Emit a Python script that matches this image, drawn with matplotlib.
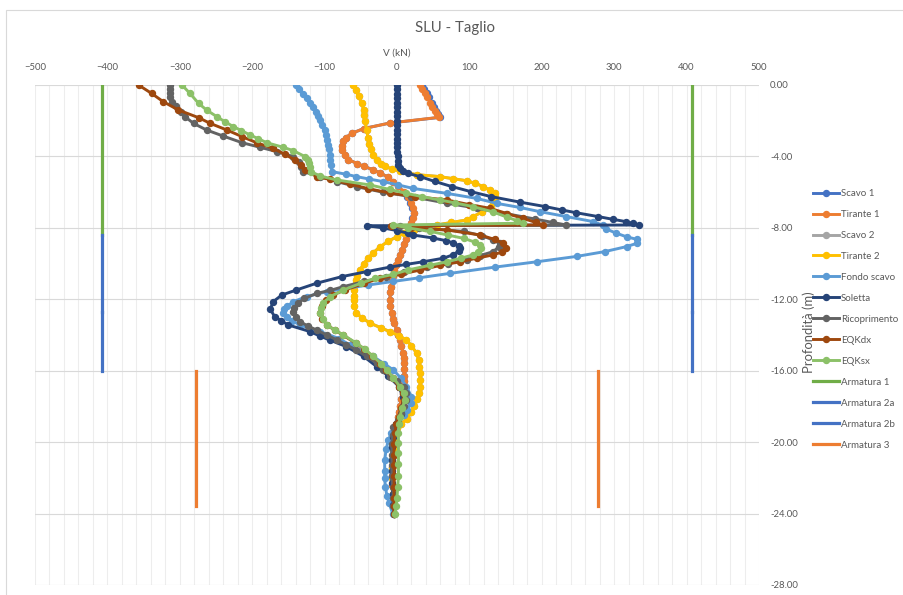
import numpy as np
import matplotlib
matplotlib.use("Agg")
import matplotlib.pyplot as plt
from matplotlib.patches import Rectangle
from matplotlib.ticker import MultipleLocator, FixedLocator, FuncFormatter

plt.rcParams["font.family"] = ["Lato", "DejaVu Sans"]

# ---- shear V (kN) vs depth z (m) for each construction stage ----
tirante1_z = [0, -0.2, -0.45, -0.7, -1.0, -1.25, -1.47, -1.65, -1.81, -2.13, -2.44, -2.7, -2.95, -3.15, -3.4, -3.62,
              -3.9, -4.18, -4.4, -4.55, -4.75, -4.93, -5.15, -5.41, -5.65, -5.97, -6.3, -6.62, -6.9, -7.18, -7.45,
              -7.74, -8.0, -8.3, -8.6, -8.9, -9.24, -9.5, -9.8, -10.1, -10.36, -10.7, -10.92, -11.3, -11.6, -12.04,
              -12.4, -12.78, -13.1, -13.34, -13.7, -14.0, -14.28, -14.6, -15.0, -15.3, -15.58, -15.9, -16.3, -16.6,
              -16.89, -17.3, -17.6, -18.0, -18.3, -18.6, -19.0, -19.4, -19.8, -20.3, -20.8, -21.4, -21.9, -22.4,
              -22.9, -23.4, -24.0]
tirante1_v = [32, 35, 39, 42, 46, 49, 52, 55, 58, -10, -46, -62, -71, -74, -76, -76,
              -72, -67, -55, -46, -33, -23, -13, -5, 2, 9, 15, 19, 22, 24, 22,
              20, 17, 15, 12, 9, 7, 4, 1, -2, -4, -6, -7, -8, -9, -10,
              -9, -7, -6, -4, 0, 2, 4, 6, 8, 9, 10, 10, 10, 10,
              9, 8, 6, 4, 3, 1, -1, -3, -4, -5, -6, -7, -7, -7,
              -6, -5, -4]

scavo1_z = list(tirante1_z)
scavo1_v = [34, 37, 41, 44, 48, 51, 54, 57, 60, -10, -46, -62, -71, -74, -76, -76,
            -72, -67, -55, -46, -33, -23, -13, -5, 2, 8, 14, 18, 21, 23, 21,
            19, 16, 15, 12, 9, 7, 4, 1, -2, -4, -6, -7, -8, -9, -10,
            -9, -7, -6, -4, 0, 2, 4, 6, 8, 9, 10, 10, 10, 10,
            9, 8, 6, 4, 3, 1, -1, -3, -4, -5, -6, -7, -7, -7,
            -6, -5, -4]

tirante2_z = [0, -0.3, -0.63, -1.0, -1.38, -1.7, -2.03, -2.5, -2.97, -3.3, -3.6, -3.9, -4.2, -4.4, -4.55, -4.7,
              -4.83, -5.02, -5.13, -5.25, -5.36, -5.5, -5.69, -5.88, -6.07, -6.3, -6.55, -6.81, -7.1, -7.37,
              -7.56, -7.7, -7.84, -8.0, -8.12, -8.3, -8.49, -8.75, -9.05, -9.4, -9.7, -10.0, -10.36, -10.7,
              -10.92, -11.2, -11.48, -11.8, -12.04, -12.4, -12.78, -13.05, -13.34, -13.6, -13.81, -14.05, -14.28,
              -14.6, -15.02, -15.4, -15.8, -16.14, -16.5, -16.9, -17.26, -17.6, -18.0, -18.3, -18.7, -19.0,
              -19.2, -19.5, -19.9, -20.4, -21.0, -21.5, -22.0, -22.5, -22.9, -23.4, -24.0]
tirante2_v = [-61, -57, -53, -49, -46, -45, -44, -42, -40, -38, -36, -33, -27, -22, -17, -7,
              4, 27, 59, 78, 96, 108, 119, 128, 135, 136, 133, 130, 118, 105,
              96, 75, 55, 38, 23, 10, 0, -12, -23, -33, -40, -46, -51, -55,
              -57, -58, -59, -60, -60, -59, -56, -48, -37, -22, -10, 3, 13,
              20, 27, 30, 31, 32, 32, 32, 31, 28, 24, 20, 14, 5,
              0, -3, -5, -6, -7, -7, -7, -6, -5, -5, -4]

scavo2_z = list(tirante2_z)
scavo2_v = list(tirante2_v)

fondo_z = [0, -0.25, -0.5, -0.75, -1.0, -1.25, -1.5, -1.75, -1.96, -2.25, -2.5, -2.8, -3.08, -3.35, -3.6, -3.9,
           -4.2, -4.5, -4.85, -5.0, -5.13, -5.27, -5.41, -5.6, -5.79, -6.07, -6.35, -6.63, -6.86, -7.09, -7.37,
           -7.65, -7.85, -8.05, -8.3, -8.5, -8.64, -8.87, -9.05, -9.33, -9.6, -9.9, -10.2, -10.55, -10.8, -11.0,
           -11.2, -11.57, -11.85, -12.13, -12.4, -12.56, -12.78, -12.97, -13.2, -13.44, -13.81, -14.2, -14.56,
           -14.9, -15.2, -15.6, -15.96, -16.4, -16.89, -17.45, -17.8, -18.2, -18.5, -18.9, -19.1, -19.5, -19.9,
           -20.4, -21.0, -21.6, -22.0, -22.5, -23.0, -23.4, -24.0]
fondo_v = [-140, -136, -130, -125, -120, -116, -112, -109, -106, -103, -100, -98, -97, -95, -94, -93,
           -92, -91, -90, -70, -56, -38, -19, 2, 22, 69, 110, 138, 170, 197, 234,
           271, 284, 288, 303, 317, 331, 331, 317, 287, 248, 193, 135, 73, 30, -5,
           -40, -97, -125, -143, -152, -156, -157, -152, -145, -134, -106, -80, -65,
           -48, -33, -18, -5, 5, 13, 20, 20, 14, 10, 2, -1, -8, -12,
           -15, -17, -17, -17, -16, -14, -11, -6]

soletta_z = [0, -0.25, -0.5, -0.75, -1.0, -1.25, -1.5, -1.75, -2.0, -2.25, -2.5, -2.75, -3.0, -3.25, -3.5, -3.75,
             -4.0, -4.25, -4.46, -4.65, -4.8, -4.95, -5.13, -5.4, -5.69, -5.97, -6.25, -6.56, -6.81, -7.0, -7.15,
             -7.37, -7.52, -7.65, -7.75, -7.84, -7.88, -8.0, -8.15, -8.3, -8.4, -8.57, -8.72, -8.85, -9.0, -9.13,
             -9.3, -9.5, -9.7, -9.9, -10.05, -10.2, -10.45, -10.73, -11.1, -11.48, -11.76, -12.13, -12.56, -12.97,
             -13.2, -13.44, -13.81, -14.05, -14.28, -14.65, -15.2, -15.77, -16.3, -16.9, -17.5, -18.0, -18.4,
             -19.0, -19.7, -20.3, -21.0, -21.6, -22.3, -22.9, -23.5, -24.0]
soletta_v = [0, 0, 0, 0, 0, 0, 0, 0, 0, 0, 0, 0, 0, 0, 0, 0,
             1, 1, 2, 4, 8, 15, 32, 52, 76, 102, 130, 170, 205, 228, 247,
             278, 298, 316, 326, 334, -41, -20, 0, 15, 22, 50, 68, 78, 85, 87,
             85, 78, 64, 36, 12, -10, -42, -76, -111, -139, -159, -171, -175, -169,
             -160, -150, -120, -107, -93, -70, -46, -28, -12, 3, 8, 8, 6,
             -1, -5, -7, -7, -7, -7, -6, -5, -4]

ricopr_z = [0, -0.25, -0.47, -0.7, -0.93, -1.2, -1.5, -1.77, -2.15, -2.52, -2.86, -3.23, -3.49, -3.73, -4.01,
            -4.3, -4.6, -4.85, -5.13, -5.41, -5.7, -6.0, -6.25, -6.62, -6.9, -7.2, -7.5, -7.7, -7.84, -7.88,
            -8.0, -8.2, -8.45, -8.68, -8.87, -9.05, -9.33, -9.55, -9.8, -10.0, -10.2, -10.5, -10.73, -11.0,
            -11.29, -11.5, -11.66, -11.95, -12.22, -12.5, -12.69, -12.97, -13.25, -13.5, -13.72, -14.0, -14.28,
            -14.55, -14.84, -15.2, -15.58, -15.95, -16.33, -16.6, -16.89, -17.25, -17.64, -18.0, -18.38, -18.75,
            -19.13, -19.6, -20.1, -20.7, -21.3, -21.9, -22.5, -23.1, -23.6, -24.0]
ricopr_v = [-314, -314, -314, -313, -311, -305, -298, -293, -281, -263, -240, -214, -189, -166, -143,
            -136, -132, -130, -106, -83, -55, -20, 20, 69, 110, 150, 190, 215, 234, 4,
            30, 92, 118, 133, 142, 141, 133, 115, 96, 70, 41, 10, -15, -45,
            -74, -92, -110, -128, -137, -142, -143, -139, -134, -123, -111, -97, -83,
            -70, -56, -42, -28, -19, -10, 0, 9, 12, 13, 10, 6, 1,
            -5, -6, -7, -7, -7, -7, -6, -5, -5, -4]

eqkdx_z = [0, -0.47, -0.93, -1.4, -1.83, -2.15, -2.52, -2.89, -3.23, -3.55, -3.88, -4.2, -4.5, -4.76, -5.13,
           -5.28, -5.55, -5.8, -6.05, -6.25, -6.44, -6.7, -6.9, -7.2, -7.47, -7.7, -7.84, -7.88, -8.0, -8.12,
           -8.4, -8.65, -8.87, -9.15, -9.35, -9.52, -9.7, -9.9, -10.1, -10.36, -10.6, -10.82, -11.1, -11.48,
           -11.75, -12.04, -12.4, -12.78, -13.1, -13.44, -13.72, -14.0, -14.46, -14.8, -15.2, -15.6, -15.96,
           -16.4, -16.89, -17.25, -17.64, -18.1, -18.57, -19.0, -19.5, -20.1, -20.7, -21.3, -21.9, -22.5,
           -23.1, -23.6, -24.0]
eqkdx_v = [-357, -339, -323, -302, -274, -258, -235, -214, -194, -171, -155, -141, -133, -127, -111,
           -93, -65, -40, -10, 25, 69, 100, 128, 152, 174, 192, 202, -8, 20, 69,
           115, 135, 147, 150, 145, 132, 110, 87, 60, 32, 5, -23, -45, -72,
           -88, -98, -104, -107, -103, -97, -86, -75, -57, -45, -34, -23, -15,
           -6, 3, 8, 10, 6, 3, -1, -3, -4, -4, -4, -4, -4,
           -4, -4, -4]

eqksx_z = [0, -0.47, -1.03, -1.4, -1.77, -2.05, -2.33, -2.55, -2.8, -3.0, -3.23, -3.49, -3.68, -4.01, -4.2,
           -4.39, -4.6, -4.85, -5.1, -5.32, -5.6, -5.85, -6.07, -6.25, -6.44, -6.6, -6.81, -7.1, -7.4, -7.6,
           -7.74, -7.84, -8.0, -8.2, -8.4, -8.59, -8.8, -8.96, -9.15, -9.33, -9.52, -9.7, -9.9, -10.1, -10.36,
           -10.6, -10.82, -11.1, -11.48, -11.85, -12.2, -12.5, -12.78, -13.1, -13.44, -13.72, -14.0, -14.46,
           -14.8, -15.2, -15.6, -15.96, -16.4, -16.89, -17.26, -17.64, -18.1, -18.57, -19.0, -19.5, -20.07,
           -20.6, -21.2, -21.9, -22.5, -23.1, -23.6, -24.0]
eqksx_v = [-297, -286, -274, -263, -249, -238, -226, -215, -203, -192, -180, -157, -143, -127, -123,
           -121, -120, -119, -106, -83, -37, -10, 13, 35, 59, 80, 105, 132, 152, 166,
           174, -5, 15, 46, 70, 92, 108, 115, 116, 112, 105, 88, 69, 45, 15,
           -5, -30, -50, -74, -92, -102, -105, -106, -102, -97, -86, -74, -56,
           -44, -33, -22, -14, -5, 4, 9, 11, 7, 4, 3, 2, 2,
           2, 2, 2, 1, 0, -1, -3]

# ---- reinforcement limits (resisting shear), split left / right by NaN ----
arm1_v = [-408, -408, np.nan, 408, 408]
arm1_z = [0, -8.4, np.nan, 0, -8.4]
arm2a_v = [-408, -408, np.nan, 408, 408]
arm2a_z = [-8.4, -12.7, np.nan, -8.4, -12.7]
arm2b_v = [-408, -408, np.nan, 408, 408]
arm2b_z = [-12.7, -16.0, np.nan, -12.7, -16.0]
arm3_v = [-277, -277, np.nan, 277, 277]
arm3_z = [-16.0, -23.6, np.nan, -16.0, -23.6]

x_ticks = [-500, -400, -300, -200, -100, 0, 100, 200, 300, 400, 500]
y_ticks = [0, -4, -8, -12, -16, -20, -24, -28]

series = [
    ("Scavo 1", scavo1_v, scavo1_z, "#4472C4"),
    ("Tirante 1", tirante1_v, tirante1_z, "#ED7D31"),
    ("Scavo 2", scavo2_v, scavo2_z, "#A5A5A5"),
    ("Tirante 2", tirante2_v, tirante2_z, "#FFC000"),
    ("Fondo scavo", fondo_v, fondo_z, "#5B9BD5"),
    ("Soletta", soletta_v, soletta_z, "#264478"),
    ("Ricoprimento", ricopr_v, ricopr_z, "#636363"),
    ("EQKdx", eqkdx_v, eqkdx_z, "#9E480E"),
    ("EQKsx", eqksx_v, eqksx_z, "#8CC168"),
]
limits = [
    ("Armatura 1", arm1_v, arm1_z, "#70AD47"),
    ("Armatura 2a", arm2a_v, arm2a_z, "#4472C4"),
    ("Armatura 2b", arm2b_v, arm2b_z, "#4472C4"),
    ("Armatura 3", arm3_v, arm3_z, "#ED7D31"),
]

W, H = 904, 595
fig = plt.figure(figsize=(W / 100, H / 100), dpi=100)
ax = fig.add_axes([35 / W, 1 - 585 / H, (759 - 35) / W, (585 - 85) / H])

text_col = "#595959"

for name, v, z, c in series:
    ax.plot(v, z, color=c, lw=2.1, marker="o", ms=4.3, mec=c, mfc=c, label=name, zorder=3)
for name, v, z, c in limits:
    ax.plot(v, z, color=c, lw=2.3, label=name, zorder=4)

ax.set_xlim(-500, 500)
ax.set_ylim(-28, 0)
ax.xaxis.set_major_locator(FixedLocator(x_ticks))
ax.xaxis.set_minor_locator(MultipleLocator(20))
ax.yaxis.set_major_locator(FixedLocator(y_ticks))
ax.xaxis.tick_top()
ax.yaxis.tick_right()
ax.yaxis.set_major_formatter(FuncFormatter(lambda val, pos: f"{val:.2f}"))
ax.tick_params(axis="both", which="both", length=0, labelsize=6.8, labelcolor=text_col)
ax.tick_params(axis="x", pad=9)
ax.tick_params(axis="y", pad=8)

ax.grid(True, axis="x", which="minor", color="#EDEDED", lw=0.8)
ax.grid(True, axis="x", which="major", color="#EDEDED", lw=0.8)
ax.grid(True, axis="y", which="major", color="#D9D9D9", lw=0.8)
ax.set_axisbelow(True)
for s in ax.spines.values():
    s.set_visible(False)

ax.set_xlabel("V (kN)", fontsize=7.2, color=text_col, labelpad=6)
ax.xaxis.set_label_position("top")

fig.text(455 / W, 1 - 28 / H, "SLU - Taglio", ha="center", va="center", fontsize=10.8, color=text_col)
fig.text(809 / W, 1 - 332 / H, "Profondità (m)", rotation=90, ha="center", va="center",
         fontsize=9.4, color=text_col)

leg = fig.legend(loc="upper left", bbox_to_anchor=(813 / W, 1 - 189 / H), frameon=False,
                 fontsize=7.0, labelspacing=1.23, handlelength=2.7, handletextpad=0.15,
                 borderpad=0, borderaxespad=0)
for t in leg.get_texts():
    t.set_color(text_col)

fig.patches.append(Rectangle((6 / W, -0.1), 1.2, 1 - 10 / H + 0.1, transform=fig.transFigure,
                             fill=False, edgecolor="#D9D9D9", lw=0.8))

fig.savefig("out.png", dpi=100)
